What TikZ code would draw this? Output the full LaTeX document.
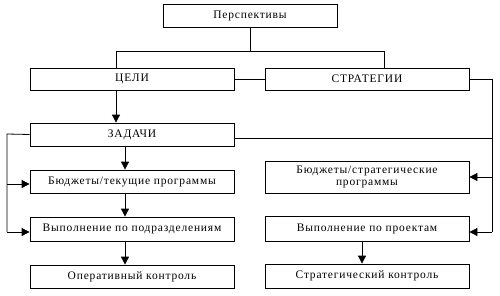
\documentclass[tikz,border=0pt]{standalone}
\usepackage{fontspec}
\setmainfont[LetterSpace=7]{Liberation Serif}
\usetikzlibrary{arrows.meta}
\begin{document}
\begin{tikzpicture}[x=1pt,y=-1pt,
  box/.style={draw,line width=0.8pt,minimum width=204pt,inner sep=0pt,align=center,font=\fontsize{11.5}{12.5}\selectfont},
  ln/.style={line width=0.8pt},
  arr/.style={line width=0.8pt,-{Triangle[length=8pt,width=8pt]}}]
\useasboundingbox (0,0) rectangle (500,295);
\node[box,minimum width=174pt,minimum height=23pt] (persp) at (250,15.5) {Перспективы};
\node[box,minimum height=22pt] (celi) at (132,79) {ЦЕЛИ};
\node[box,minimum height=22pt] (strat) at (367,79) {СТРАТЕГИИ};
\node[box,minimum height=23pt] (zad) at (132,134.5) {ЗАДАЧИ};
\node[box,minimum height=23pt] (bt) at (132,181.5) {Бюджеты/текущие программы};
\node[box,minimum height=24pt] (vp) at (132,229) {Выполнение по подразделениям};
\node[box,minimum height=23pt] (ok) at (132,276.5) {Оперативный контроль};
\node[box,minimum height=32pt] (bs) at (367,177) {Бюджеты/стратегические\\программы};
\node[box,minimum height=25pt] (vpr) at (367,228.5) {Выполнение по проектам};
\node[box,minimum height=24pt] (sk) at (367,276) {Стратегический контроль};
\coordinate (cl) at (116,51);
\coordinate (cr) at (384,51);
\coordinate (rr) at (492,79);
\coordinate (ll) at (7,134);
\draw[ln] (persp.south) -- (persp.south |- cl);
\draw[ln] (cl) -- (cr);
\draw[ln] (cl) -- (cl |- celi.north);
\draw[ln] (cr) -- (cr |- strat.north);
\draw[ln] (celi.east) -- (strat.west);
\draw[ln] (strat.east) -- (rr) -- ([yshift=-3.5pt]rr |- vpr.east);
\draw[ln] ([yshift=-3.5pt]zad.east) -- ([yshift=-3.5pt]zad.east -| rr);
\draw[arr] (rr |- bs.east) -- (bs.east);
\draw[arr] ([yshift=-3.5pt]rr |- vpr.east) -- ([yshift=-3.5pt]vpr.east);
\draw[ln] (zad.west) -- (ll) -- ([yshift=-3pt]ll |- vp.west);
\draw[arr] ([yshift=-2.5pt]ll |- bt.west) -- ([yshift=-2.5pt]bt.west);
\draw[arr] ([yshift=-3pt]ll |- vp.west) -- ([yshift=-3pt]vp.west);
\draw[arr] (celi.south -| cl) -- (zad.north -| cl);
\coordinate (cx) at (125,0);
\draw[arr] (zad.south -| cx) -- (bt.north -| cx);
\draw[arr] (bt.south -| cx) -- (vp.north -| cx);
\draw[arr] (vp.south -| cx) -- (ok.north -| cx);
\coordinate (rx) at (362,0);
\draw[arr] (vpr.south -| rx) -- (sk.north -| rx);
\end{tikzpicture}
\end{document}
